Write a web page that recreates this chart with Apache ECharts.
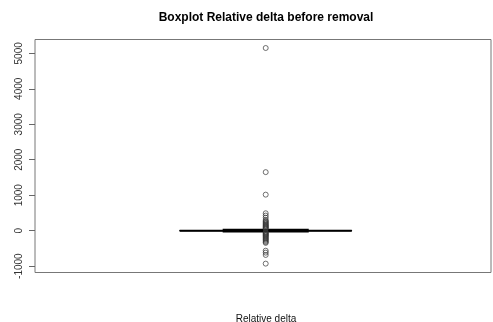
<!DOCTYPE html>
<html>
<head>
<meta charset="utf-8">
<script src="https://cdn.jsdelivr.net/npm/echarts@6/dist/echarts.min.js"></script>
<style>
  html, body { margin: 0; padding: 0; background: #fff; }
  #chart { width: 493px; height: 322px; }
</style>
</head>
<body>
<div id="chart"></div>
<script>
// Five-number summary of the relative delta: [lower whisker, Q1, median, Q3, upper whisker]
const boxStats = [-22, -4, 0, 4, 22];

// Points beyond the whiskers
const outliers = [
  5150, 1650, 1015, 490, 425, 365, 300, 270, 245, 220, 195, 170, 150, 130,
  110, 90, 70, 50, -40, -60, -80, -100, -120, -140, -160, -185, -210, -235,
  -260, -290, -320, -345, -565, -620, -685, -930
];

// Y axis tick positions and labels
const yTicks = [-1000, 0, 1000, 2000, 3000, 4000, 5000];
const yTickLabels = ['-1000', '0', '1000', '2000', '3000', '4000', '5000'];

const chart = echarts.init(document.getElementById('chart'), null, { renderer: 'canvas' });

const FONT = 'Liberation Sans, Arial, sans-serif';

function renderBox(params, api) {
  const x = api.value(0);
  const lo = api.value(1), q1 = api.value(2), med = api.value(3), q3 = api.value(4), hi = api.value(5);
  const BW = 0.191;   // half box width (axis units)
  const SW = 0.0955;  // half staple width
  const c = (xx, v) => api.coord([xx, v]);
  const tl = c(x - BW, q3), br = c(x + BW, q1);
  const seg = (a, b, w, dash) => ({
    type: 'line',
    shape: { x1: a[0], y1: a[1], x2: b[0], y2: b[1] },
    style: { stroke: '#000', lineWidth: w, lineDash: dash || null }
  });
  return {
    type: 'group',
    children: [
      { type: 'rect', shape: { x: tl[0], y: tl[1], width: br[0] - tl[0], height: br[1] - tl[1] },
        style: { fill: 'none', stroke: '#000', lineWidth: 1 } },
      seg(c(x - BW, med), c(x + BW, med), 2),
      seg(c(x, q3), c(x, hi), 1, [4, 3]),
      seg(c(x, q1), c(x, lo), 1, [4, 3]),
      seg(c(x - SW, hi), c(x + SW, hi), 2),
      seg(c(x - SW, lo), c(x + SW, lo), 2)
    ]
  };
}

chart.setOption({
  animation: false,
  backgroundColor: '#fff',
  title: [
    {
      text: 'Boxplot Relative delta before removal',
      left: 261, top: 7, textAlign: 'center',
      textStyle: { fontFamily: FONT, fontSize: 12, fontWeight: 'bold', color: '#000' }
    },
    {
      text: 'Relative delta',
      left: 261, top: 309, textAlign: 'center',
      textStyle: { fontFamily: FONT, fontSize: 10, fontWeight: 'normal', color: '#111' }
    }
  ],
  grid: {
    left: 35, right: 2, top: 39.5, bottom: 49.5,
    show: true, borderColor: '#777', borderWidth: 1, backgroundColor: 'transparent'
  },
  xAxis: {
    type: 'value', min: 0.488, max: 1.5, show: false
  },
  yAxis: {
    type: 'value',
    min: -1180, max: 5390,
    axisLine: { show: false },
    splitLine: { show: false },
    axisTick: { show: true, length: 6, customValues: yTicks, lineStyle: { color: '#666', width: 1 } },
    axisLabel: {
      customValues: yTicks,
      formatter: v => yTickLabels[yTicks.indexOf(v)] ?? String(v),
      rotate: 90, margin: 11,
      fontFamily: FONT, fontSize: 10, color: '#333'
    }
  },
  series: [
    {
      type: 'custom',
      renderItem: renderBox,
      data: [[1].concat(boxStats)],
      encode: { x: 0, y: [1, 2, 3, 4, 5] },
      clip: false,
      z: 2
    },
    {
      type: 'scatter',
      data: outliers.map(v => [1, v]),
      symbol: 'circle',
      symbolSize: 5,
      itemStyle: { color: 'rgba(0,0,0,0)', borderColor: '#333', borderWidth: 0.7, opacity: 1 },
      z: 3
    }
  ]
});
</script>
</body>
</html>
